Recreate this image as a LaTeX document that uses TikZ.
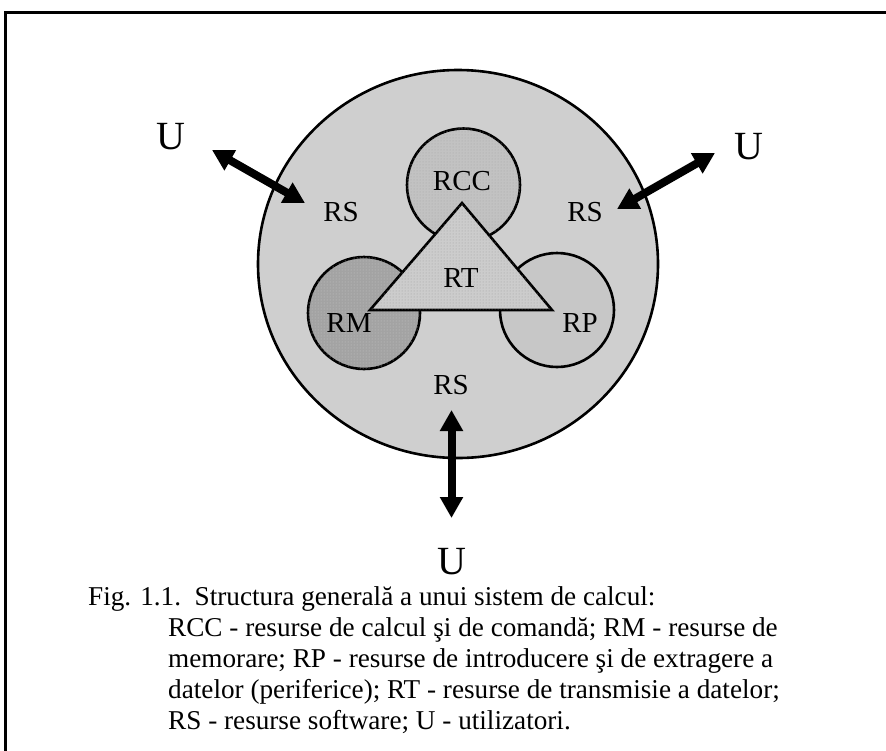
\documentclass[tikz,border=0pt]{standalone}
\usepackage{fontspec}
\setmainfont{Liberation Serif}
\usetikzlibrary{arrows.meta,patterns}

\definecolor{sysgray}{gray}{0.81}
\definecolor{rccgray}{gray}{0.76}
\definecolor{rmgray}{gray}{0.64}
\definecolor{rpgray}{gray}{0.78}
\definecolor{rtgray}{gray}{0.80}

\tikzset{
  outline/.style={draw=black, line width=2.6pt},
  dotted fill/.style={postaction={pattern=dots, pattern color=#1}},
  biarrow/.style={line width=8pt, {Triangle[width=22pt,length=21pt]}-{Triangle[width=22pt,length=21pt]}},
  big/.style={font=\fontsize{40}{44}\selectfont, inner sep=0pt},
  lbl/.style={font=\fontsize{29}{33}\selectfont, inner sep=0pt},
  caption/.style={font=\fontsize{27.2}{32}\selectfont, inner sep=0pt, anchor=base west}
}

\begin{document}
\begin{tikzpicture}[x=1pt, y=-1pt]
  \useasboundingbox (0,0) rectangle (886,750);

  % frame
  \draw[line width=3pt] (5.5,760) -- (5.5,12.5) -- (895,12.5);

  % whole system
  \draw[outline, fill=sysgray] (458,264) ellipse [x radius=200, y radius=194];

  % resource circles
  \draw[outline, fill=rccgray, dotted fill=gray!70] (463.5,185) circle [radius=56.5];
  \draw[outline, fill=rmgray, dotted fill=gray!45] (364,313) circle [radius=56];
  \draw[outline, fill=rpgray] (557,310) circle [radius=57];

  % transmission triangle
  \draw[outline, line join=miter, fill=rtgray, dotted fill=gray!75]
    (462,203) -- (370,310) -- (552,310) -- cycle;

  % labels
  \node[lbl] (rcc) at (462,181) {RCC};
  \node[lbl] (rt)  at (461,278) {RT};
  \node[lbl] (rm)  at (349,323) {RM};
  \node[lbl] (rp)  at (580,323) {RP};
  \node[lbl] (rsl) at (341,212) {RS};
  \node[lbl] (rsr) at (585,212) {RS};
  \node[lbl] (rsb) at (451,385) {RS};

  \node[big] (ul) at (171,137) {U};
  \node[big] (ur) at (749,147) {U};
  \node[big] (ub) at (452,562) {U};

  % user arrows
  \coordinate (al1) at (212,150);
  \coordinate (al2) at (305,203);
  \coordinate (ar1) at (715,153);
  \coordinate (ar2) at (617,209);
  \coordinate (ab1) at (451.5,410);
  \coordinate (ab2) at (451.5,518);
  \draw[biarrow] (al1) -- (al2);
  \draw[biarrow] (ar1) -- (ar2);
  \draw[biarrow] (ab1) -- (ab2);

  % caption
  \node[caption] (c0) at (88,605) {Fig. 1.1.\ \ Structura generală a unui sistem de calcul:};
  \node[caption] (c1) at (168,636) {RCC - resurse de calcul şi de comandă; RM - resurse de};
  \node[caption] (c2) at (168,667) {memorare; RP - resurse de introducere şi de extragere a};
  \node[caption] (c3) at (168,698) {datelor (periferice); RT - resurse de transmisie a datelor;};
  \node[caption] (c4) at (168,729) {RS - resurse software; U - utilizatori.};
\end{tikzpicture}
\end{document}
